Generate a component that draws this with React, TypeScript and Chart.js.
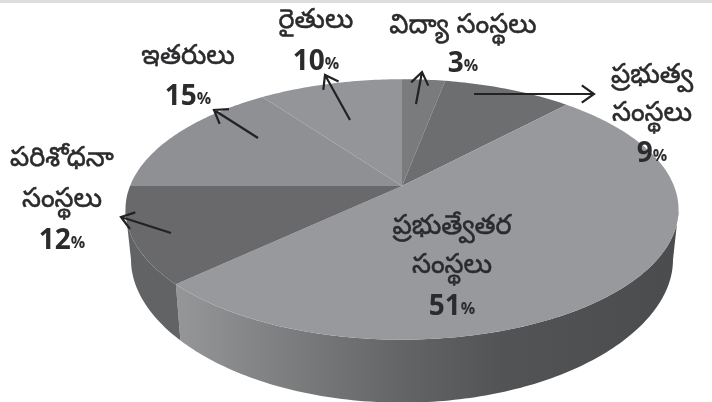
import React, { useEffect, useRef } from "react";
import { Chart, registerables } from "chart.js";

Chart.register(...registerables);

const categories = ["విద్యా సంస్థలు", "ప్రభుత్వ సంస్థలు", "ప్రభుత్వేతర సంస్థలు", "పరిశోధనా సంస్థలు", "ఇతరులు", "రైతులు"];
const shares = [3, 9, 51, 12, 15, 10];
const topColors = ["#7a7b7d", "#6d6e70", "#98999c", "#69696c", "#8f9093", "#949598"];

const labelLines = [
  ["విద్యా సంస్థలు"],
  ["ప్రభుత్వ", "సంస్థలు"],
  ["ప్రభుత్వేతర", "సంస్థలు"],
  ["పరిశోధనా", "సంస్థలు"],
  ["ఇతరులు"],
  ["రైతులు"],
];
const labelAnchors = [
  { x: 463, ys: [29], py: 64 },
  { x: 652, ys: [79, 117], py: 154 },
  { x: 452, ys: [230, 269], py: 307 },
  { x: 62, ys: [162, 203], py: 241 },
  { x: 188, ys: [60], py: 97 },
  { x: 316, ys: [24], py: 62 },
];
const arrows = [
  [416, 104, 422, 72],
  [474, 94, 594, 94],
  [171, 233, 121, 217],
  [258, 138, 214, 110],
  [350, 120, 325, 75],
];

const CX = 402, CY = 186, R = 272, RY = 126, P = 0.18, SHRINK = 0.98;
const FRONT0 = Math.asin(P), FRONT1 = Math.PI - FRONT0;

const rim = (a: number) => {
  const k = 1 / (1 - P * Math.sin(a));
  return [CX + R * Math.cos(a) * k, CY + RY * Math.sin(a) * k];
};
const base = (a: number) => {
  const [x, y] = rim(a);
  const s = Math.sin(a);
  return [CX + (x - CX) * SHRINK, y + 50 + 13 * s * s];
};
const trace = (ctx: CanvasRenderingContext2D, fn: (a: number) => number[], a0: number, a1: number) => {
  const n = Math.max(2, Math.ceil(Math.abs(a1 - a0) * 60));
  for (let i = 0; i <= n; i++) {
    const [x, y] = fn(a0 + ((a1 - a0) * i) / n);
    ctx.lineTo(x, y);
  }
};

const pieProjection = {
  id: "pieProjection",
  afterDatasetsUpdate(chart: any) {
    chart.getDatasetMeta(0).data.forEach((el: any) => {
      el.draw = function (ctx: CanvasRenderingContext2D) {
        ctx.save();
        ctx.beginPath();
        ctx.moveTo(CX, CY);
        trace(ctx, rim, this.startAngle, this.endAngle);
        ctx.closePath();
        ctx.fillStyle = this.options.backgroundColor;
        ctx.fill();
        ctx.restore();
      };
    });
  },
  beforeDatasetsDraw(chart: any) {
    const ctx: CanvasRenderingContext2D = chart.ctx;
    ctx.fillStyle = "#dcdddf";
    ctx.fillRect(0, 0, 712, 3);
    chart.getDatasetMeta(0).data.forEach((el: any, i: number) => {
      const a0 = Math.max(el.startAngle, FRONT0);
      const a1 = Math.min(el.endAngle, FRONT1);
      if (a1 <= a0) return;
      ctx.beginPath();
      const [sx, sy] = rim(a0);
      ctx.moveTo(sx, sy);
      trace(ctx, rim, a0, a1);
      trace(ctx, base, a1, a0);
      ctx.closePath();
      if (i === 2) {
        const g = ctx.createLinearGradient(178, 0, 680, 0);
        g.addColorStop(0, "#959698");
        g.addColorStop(0.25, "#797a7c");
        g.addColorStop(0.45, "#636466");
        g.addColorStop(0.65, "#525355");
        g.addColorStop(1, "#4b4c4e");
        ctx.fillStyle = g;
      } else {
        ctx.fillStyle = "#626365";
      }
      ctx.fill();
    });
  },
  afterDatasetsDraw(chart: any) {
    const ctx: CanvasRenderingContext2D = chart.ctx;
    ctx.save();
    ctx.strokeStyle = "#222123";
    ctx.lineWidth = 2.2;
    arrows.forEach(([x0, y0, x1, y1]) => {
      const t = Math.atan2(y1 - y0, x1 - x0);
      ctx.beginPath();
      ctx.moveTo(x0, y0);
      ctx.lineTo(x1, y1);
      ctx.moveTo(x1 - 15 * Math.cos(t - 0.62), y1 - 15 * Math.sin(t - 0.62));
      ctx.lineTo(x1, y1);
      ctx.lineTo(x1 - 15 * Math.cos(t + 0.62), y1 - 15 * Math.sin(t + 0.62));
      ctx.stroke();
    });
    ctx.fillStyle = "#2b2a2c";
    ctx.strokeStyle = "#2b2a2c";
    ctx.lineWidth = 0.5;
    ctx.textBaseline = "middle";
    labelAnchors.forEach((p, i) => {
      ctx.textAlign = "center";
      ctx.font = '27px "Noto Sans Telugu", "Noto Sans", "DejaVu Sans", sans-serif';
      labelLines[i].forEach((line, j) => {
        ctx.fillText(line, p.x, p.ys[j]);
        ctx.strokeText(line, p.x, p.ys[j]);
      });
      const num = String(shares[i]);
      ctx.font = 'bold 28px "Open Sans", sans-serif';
      const wn = ctx.measureText(num).width;
      ctx.font = 'bold 16px "Open Sans", sans-serif';
      const wp = ctx.measureText("%").width;
      ctx.textAlign = "left";
      ctx.fillText("%", p.x - (wn + wp) / 2 + wn, p.py + 2);
      ctx.font = 'bold 28px "Open Sans", sans-serif';
      ctx.fillText(num, p.x - (wn + wp) / 2, p.py);
    });
    ctx.restore();
  },
};

export default function App() {
  const ref = useRef<HTMLCanvasElement>(null);
  useEffect(() => {
    document.body.style.margin = "0";
    const chart = new Chart(ref.current!, {
      type: "pie",
      data: {
        labels: categories,
        datasets: [{ data: shares, backgroundColor: topColors, borderWidth: 0 }],
      },
      options: {
        animation: false,
        responsive: false,
        plugins: { legend: { display: false }, tooltip: { enabled: false } },
      },
      plugins: [pieProjection],
    } as any);
    return () => chart.destroy();
  }, []);
  return <canvas ref={ref} width={712} height={402} style={{ display: "block" }} />;
}
